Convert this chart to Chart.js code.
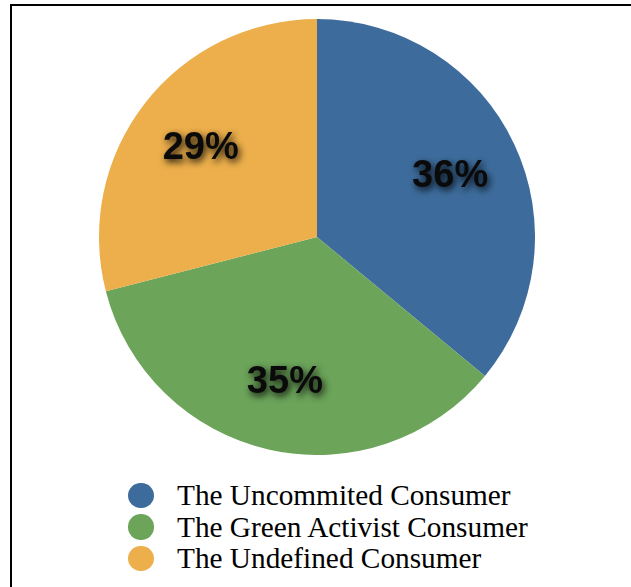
<!DOCTYPE html>
<html>
<head>
<meta charset="utf-8">
<script src="https://cdn.jsdelivr.net/npm/chart.js@4"></script>
<style>
  html, body { margin: 0; padding: 0; background: #fff; width: 631px; height: 587px; overflow: hidden; }
  #frame { position: absolute; left: 10px; top: 4px; width: 700px; height: 700px;
           border-left: 2px solid #000; border-top: 2px solid #000; }
  #chart { position: absolute; left: 99px; top: 19px; }
  #legend { position: absolute; left: 128px; top: 479px; margin: 0; padding: 0; list-style: none;
            font-family: "Liberation Serif", "Times New Roman", serif; font-size: 29.3px; color: #000; }
  #legend li { position: relative; height: 31.5px; line-height: 32px; padding-left: 49px; white-space: nowrap; }
  #legend li span { position: absolute; left: 0; top: 3.5px; width: 25.5px; height: 25.5px; border-radius: 50%; }
</style>
</head>
<body>
<div id="frame"></div>
<canvas id="chart" width="436" height="436"></canvas>
<ul id="legend"></ul>
<script>
var categories = ['The Uncommited Consumer', 'The Green Activist Consumer', 'The Undefined Consumer'];
var shares = [36, 35, 29];
var colors = ['#3d6c9c', '#6ca45a', '#ecaf4b'];

var sliceLabels = {
  id: 'sliceLabels',
  afterDatasetsDraw: function(chart) {
    var ctx = chart.ctx;
    var meta = chart.getDatasetMeta(0);
    ctx.save();
    ctx.font = 'bold 38px "Liberation Sans", Arial, sans-serif';
    ctx.textAlign = 'center';
    ctx.textBaseline = 'middle';
    ctx.fillStyle = '#0a0a0a';
    ctx.shadowColor = 'rgba(0,0,0,0.9)';
    ctx.shadowBlur = 7;
    ctx.shadowOffsetX = 2;
    ctx.shadowOffsetY = 3;
    meta.data.forEach(function(arc, i) {
      var p = arc.getProps(['x', 'y', 'startAngle', 'endAngle', 'outerRadius'], true);
      var mid = (p.startAngle + p.endAngle) / 2;
      var r = p.outerRadius * 0.675;
      ctx.fillText(shares[i] + '%', p.x + Math.cos(mid) * r, p.y + Math.sin(mid) * r + 2);
    });
    ctx.restore();
  }
};

var chart = new Chart(document.getElementById('chart'), {
  type: 'pie',
  data: {
    labels: categories,
    datasets: [{
      data: shares,
      backgroundColor: colors,
      borderWidth: 0
    }]
  },
  options: {
    responsive: false,
    animation: false,
    layout: { padding: 0 },
    plugins: {
      legend: { display: false },
      tooltip: { enabled: false }
    }
  },
  plugins: [sliceLabels]
});

// legend list built from the chart's own legend items
var items = Chart.overrides.pie.plugins.legend.labels.generateLabels(chart);
var list = document.getElementById('legend');
items.forEach(function(item) {
  var li = document.createElement('li');
  var dot = document.createElement('span');
  dot.style.background = item.fillStyle;
  li.appendChild(dot);
  li.appendChild(document.createTextNode(item.text));
  list.appendChild(li);
});
</script>
</body>
</html>
